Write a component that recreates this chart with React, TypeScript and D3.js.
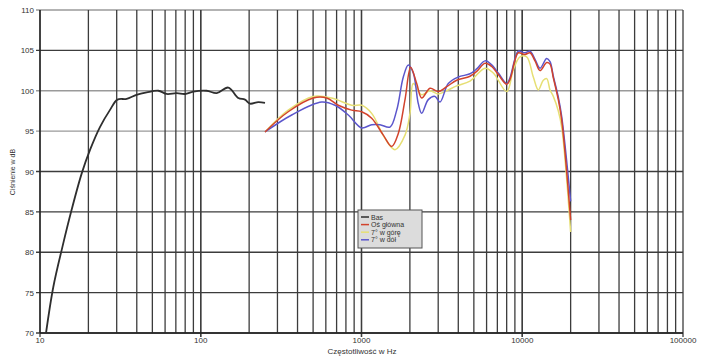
import React from "react";
import * as d3 from "d3";

const W = 705;
const H = 358;

const yTicks = [70, 75, 80, 85, 90, 95, 100, 105, 110];
const xDecades = [10, 100, 1000, 10000, 100000];
const xDecadeLabels = ["10", "100", "1000", "10000", "100000"];

const basFreq = [10.9, 12.1, 13.8, 15.7, 18.2, 20.5, 23.6, 27.2, 30.3, 34.6, 39.8, 46.1, 54.5, 61.4, 70.8, 79.8, 89.9, 108.9, 125.6, 148.4, 171.3, 188.4, 202.4, 228, 251];
const basDb = [70, 75.7, 80.7, 85.2, 89.8, 92.7, 95.5, 97.6, 98.9, 99.0, 99.5, 99.8, 100.0, 99.6, 99.7, 99.6, 99.9, 100.0, 99.7, 100.4, 99.1, 98.9, 98.4, 98.6, 98.5];

const mainFreq = [251, 350, 501, 607, 717, 869, 1003, 1157, 1367, 1541, 1694, 1865, 2023, 2205, 2369, 2668, 3004, 3388, 3910, 4731, 5207, 5866, 6457, 7096, 8005, 8391, 9017, 9450, 10401, 11173, 12006, 12896, 14198, 14884, 15605, 16761, 17596, 20000];
const mainDb = [94.9, 97.4, 99.1, 99.1, 98.2, 97.6, 97.4, 96.6, 94.5, 93.1, 94.7, 98.9, 102.9, 100.9, 99.1, 100.3, 99.9, 100.5, 101.3, 101.8, 102.4, 103.4, 103.0, 102.0, 100.8, 101.4, 103.8, 104.7, 104.5, 104.7, 103.7, 102.5, 103.5, 103.3, 101.6, 98.9, 96.4, 84.0];

const upFreq = [251, 350, 501, 652, 869, 1003, 1157, 1400, 1616, 1865, 2003, 2100, 2369, 2668, 3004, 3388, 3910, 4731, 5866, 6606, 8005, 8799, 9683, 10659, 11717, 12585, 13521, 14198, 14884, 15605, 16761, 17596, 20000];
const upDb = [94.9, 97.6, 99.3, 99.1, 98.2, 98.2, 97.2, 94.1, 92.7, 94.5, 97.2, 100.9, 99.5, 100.0, 99.6, 100.0, 100.6, 101.2, 102.8, 102.2, 99.9, 102.6, 104.2, 104.2, 101.7, 100.1, 101.3, 101.5, 100.1, 99.3, 97.5, 95.5, 82.5];

const downFreq = [251, 368, 565, 684, 828, 1003, 1157, 1303, 1504, 1656, 1820, 1955, 2100, 2256, 2369, 2603, 2866, 3078, 3467, 4001, 4731, 5207, 5866, 6457, 7096, 8005, 8391, 9017, 9450, 10401, 11173, 12006, 12896, 14198, 14884, 15605, 16761, 17596, 20000];
const downDb = [94.9, 97.0, 98.6, 98.2, 97.0, 95.4, 95.8, 95.8, 95.5, 97.6, 101.7, 103.2, 102.2, 98.4, 97.2, 98.9, 99.3, 98.6, 100.9, 101.7, 102.1, 102.7, 103.7, 103.2, 102.2, 100.9, 101.6, 104.0, 104.9, 104.7, 104.9, 103.9, 102.8, 104.0, 103.6, 101.8, 99.2, 96.8, 86.3];

const seriesNames = ["Bas", "Oś główna", "7° w górę", "7° w dół"];
const seriesColors = ["#2e2e2e", "#d2432c", "#e6df74", "#5b56cc"];

export default function App() {
  const left = 40, right = 683, top = 10, bottom = 333;
  const x = d3.scaleLog().domain([10, 100000]).range([left, right]);
  const y = d3.scaleLinear().domain([70, 110]).range([bottom, top]);

  const minorTicks: number[] = [];
  for (let d = 10; d < 100000; d *= 10) {
    for (let k = 1; k <= 10; k++) minorTicks.push(d * k);
  }

  const line = d3
    .line<[number, number]>()
    .x((p) => x(p[0]))
    .y((p) => y(p[1]))
    .curve(d3.curveCatmullRom.alpha(0.5));

  const zip = (a: number[], b: number[]) => a.map((v, i) => [v, b[i]] as [number, number]);
  const series = [
    zip(basFreq, basDb),
    zip(mainFreq, mainDb),
    zip(upFreq, upDb),
    zip(downFreq, downDb),
  ];
  const drawOrder = [0, 2, 3, 1];

  const font = "'Liberation Sans', Arial, sans-serif";
  const lightRows = [110, 100, 95];

  return (
    <svg width={W} height={H} style={{ position: "absolute", left: 0, top: 0, background: "#fff" }}>
      <rect x={0} y={0} width={W} height={H} fill="#fff" />
      {yTicks.map((t) => (
        <line key={"h" + t} x1={left - 4} x2={right} y1={y(t)} y2={y(t)}
          stroke={lightRows.includes(t) ? "#9a9a9a" : "#3c3c3c"} strokeWidth={1.3} />
      ))}
      {minorTicks.map((t, i) => (
        <line key={"v" + i} x1={x(t)} x2={x(t)} y1={top} y2={bottom + (xDecades.includes(t) ? 4 : 0)}
          stroke="#3c3c3c" strokeWidth={1.3} />
      ))}
      <line x1={left} x2={left} y1={top} y2={bottom} stroke="#222" strokeWidth={1.3} />
      <line x1={left} x2={right} y1={bottom} y2={bottom} stroke="#222" strokeWidth={1.3} />
      {yTicks.map((t) => (
        <text key={"yl" + t} x={left - 6} y={y(t) + 3} fontSize={8} fontFamily={font} fill="#333" textAnchor="end">{t}</text>
      ))}
      {xDecades.map((t, i) => (
        <text key={"xl" + t} x={x(t)} y={343} fontSize={8} fontFamily={font} fill="#333" textAnchor="middle">{xDecadeLabels[i]}</text>
      ))}
      <text x={362} y={354} fontSize={8} fontFamily={font} fill="#333" textAnchor="middle">Częstotliwość w Hz</text>
      <text transform="translate(15,172) rotate(-90)" fontSize={7} fontFamily={font} fill="#333" textAnchor="middle">Ciśnienie w dB</text>
      {drawOrder.map((si) => (
        <path key={"s" + si} d={line(series[si]) || ""} fill="none" stroke={seriesColors[si]}
          strokeWidth={si === 0 ? 1.8 : 1.5} strokeLinejoin="round" />
      ))}
      <rect x={358} y={210} width={64} height={38} fill="#dcdcdc" stroke="#555" strokeWidth={1} />
      {seriesNames.map((n, i) => (
        <g key={"lg" + i}>
          <line x1={361} x2={369} y1={217 + i * 7.6} y2={217 + i * 7.6} stroke={seriesColors[i]} strokeWidth={1.5} />
          <text x={371} y={219.5 + i * 7.6} fontSize={7} fontFamily={font} fill="#333">{n}</text>
        </g>
      ))}
    </svg>
  );
}
